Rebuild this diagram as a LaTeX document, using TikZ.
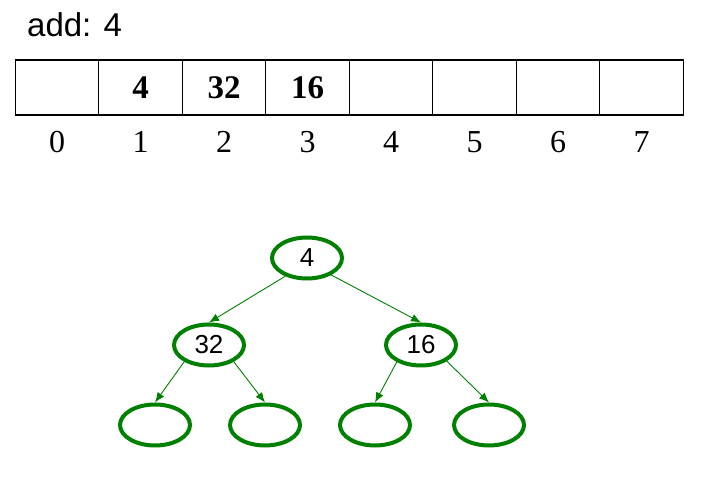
\documentclass[tikz,border=0pt]{standalone}
\usepackage{fontspec}
\setmainfont{Liberation Serif}
\setsansfont{Liberation Sans}
\usetikzlibrary{arrows.meta,shapes.geometric}
\definecolor{heapgreen}{RGB}{0,128,0}

\begin{document}
\begin{tikzpicture}[x=1pt,y=-1pt,
  cell/.style={draw,line width=1.4pt,minimum width=83.5pt,minimum height=55pt,inner sep=0pt,
    font=\fontsize{33}{36}\selectfont\bfseries},
  heapnode/.style={ellipse,draw=heapgreen,line width=4pt,minimum width=70pt,minimum height=41pt,
    inner sep=0pt,font=\sffamily\fontsize{26}{28}\selectfont},
  link/.style={heapgreen,line width=0.9pt,-{Latex[length=10pt,width=8pt]}}]
\useasboundingbox (0,0) rectangle (701,478);
\node [anchor=base west,inner sep=0pt,font=\sffamily\fontsize{33}{36}\selectfont] (title) at (27,37) {add: 4};
\foreach \i/\v in {0/{},1/4,2/32,3/16,4/{},5/{},6/{},7/{}} {
  \node [cell] (cell\i) at (57+83.5*\i,87.5) {\v};
  \node [anchor=base,inner sep=0pt,font=\fontsize{32}{36}\selectfont] (idx\i) at (57+83.5*\i,153) {\i};
}
\node [heapnode] (root) at (307,258) {4};
\node [heapnode] (n32) at (209,345) {32};
\node [heapnode] (n16) at (421,345) {16};
\node [heapnode] (leafa) at (155,425) {};
\node [heapnode] (leafb) at (265,425) {};
\node [heapnode] (leafc) at (375,425) {};
\node [heapnode] (leafd) at (489,425) {};
\draw [link] (root.220) -- (n32.north);
\draw [link] (root.325) -- (n16.north);
\draw [link] (n32.214) -- (leafa.north);
\draw [link] (n32.326) -- (leafb.north);
\draw [link] (n16.215) -- (leafc.north);
\draw [link] (n16.328) -- (leafd.north);
\end{tikzpicture}
\end{document}
